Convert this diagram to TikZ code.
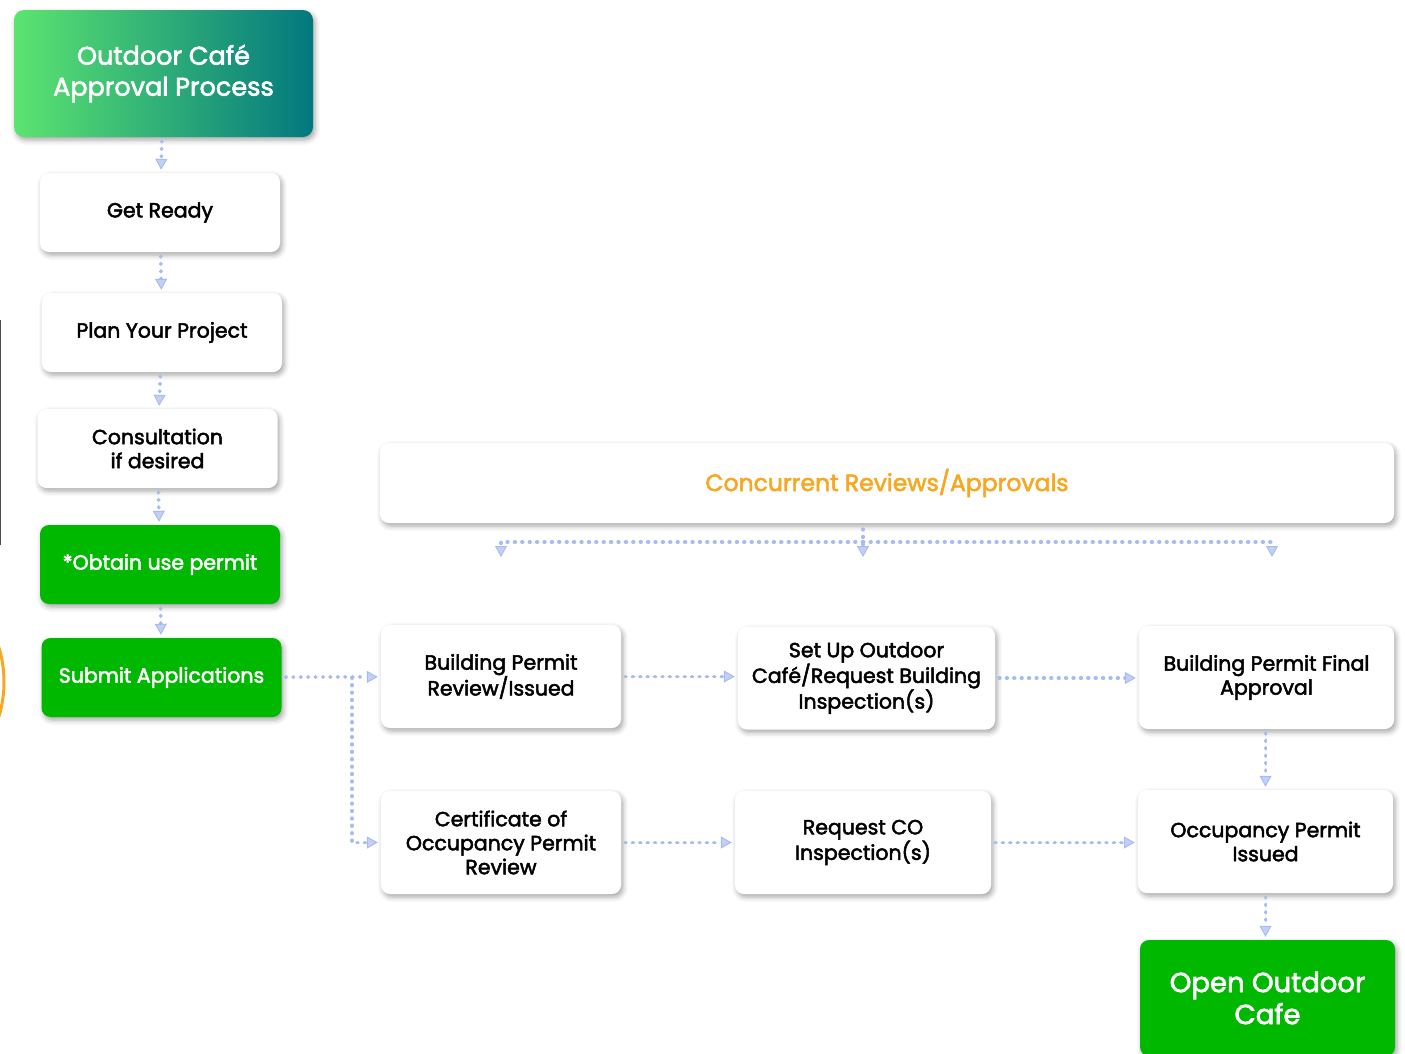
\documentclass[tikz,border=0pt]{standalone}
\usepackage{fontspec}
\setmainfont{Poppins}
\newfontfamily\semib{Poppins}[FakeBold=2.4]
\usetikzlibrary{arrows.meta,shadows.blur}
\usepackage{xcolor}

\definecolor{flowgreen}{HTML}{00B800}
\definecolor{linkblue}{HTML}{A9BCF2}
\definecolor{concorange}{HTML}{F7A823}
\definecolor{titlelight}{HTML}{5CE470}
\definecolor{titledark}{HTML}{02787F}

\tikzset{
  boxshadow/.style={blur shadow={shadow xshift=2pt, shadow yshift=-3pt, shadow blur radius=5pt, shadow opacity=35}},
  stepbox/.style={fill=white, rounded corners=9pt, align=center, inner sep=0pt, boxshadow,
    minimum width=240pt, minimum height=79pt, font=\semib\fontsize{20.5}{24}\selectfont},
  widebox/.style={stepbox, minimum height=103pt},
  greenbox/.style={stepbox, fill=flowgreen, text=white},
  flow/.style={draw=linkblue, line width=3.8pt, line cap=round, dash pattern=on 0.6pt off 6.8pt,
    shorten >=3pt, shorten <=4pt, -{Triangle[fill=linkblue!70, line width=1pt, length=11pt, width=12pt]}}
}

\begin{document}
\begin{tikzpicture}[x=1pt, y=-1pt]
    \useasboundingbox (0,0) rectangle (1405,1053);

    % cut-off shapes on the left edge
    \begin{scope}
        \clip (0,0) rectangle (1405,1053);
        \draw[gray!60!black, line width=2.5pt] (0,320) -- (0,545);
        \draw[concorange, line width=3pt] (-60,682) ellipse (64pt and 88pt);
    \end{scope}

    % left column
    \node[rounded corners=10pt, left color=titlelight, right color=titledark, boxshadow,
          minimum width=299pt, minimum height=127pt, text=white, align=center,
          font=\semib\fontsize{25.5}{31}\selectfont] (title) at (163.5,73.5) {Outdoor Café\\Approval Process};
    \node[stepbox] (ready) at (160,212.5) {Get Ready};
    \node[stepbox] (plan) at (162,332.5) {Plan Your Project};
    \node[stepbox] (consult) at (157.5,448.5) {Consultation\\if desired};
    \node[greenbox] (usepermit) at (160,564.5) {*Obtain use permit};
    \node[greenbox] (submit) at (161.5,677.5) {Submit Applications};

    % concurrent reviews
    \node[stepbox, minimum width=1014pt, minimum height=80pt, text=concorange,
          font=\semib\fontsize{23.5}{26}\selectfont] (concur) at (887,483) {Concurrent Reviews/Approvals};

    % review rows
    \node[widebox] (bpreview) at (501,676.5) {Building Permit\\Review/Issued};
    \node[widebox, minimum width=257pt] (setup) at (866.5,678) {Set Up Outdoor\\Café/Request Building\\Inspection(s)};
    \node[widebox, minimum width=255pt] (bpfinal) at (1266.5,677.5) {Building Permit Final\\Approval};
    \node[widebox] (cert) at (501,842.5) {Certificate of\\Occupancy Permit\\Review};
    \node[widebox, minimum width=256pt] (reqco) at (863,842.5) {Request CO\\Inspection(s)};
    \node[widebox, minimum width=255pt] (occissued) at (1265.5,841.5) {Occupancy Permit\\Issued};
    \node[greenbox, minimum width=255pt, minimum height=116pt,
          font=\semib\fontsize{27.5}{32}\selectfont] (open) at (1267.5,998) {Open Outdoor\\Cafe};

    % connectors, left column
    \draw[flow] (title) -- (ready);
    \draw[flow] (ready) -- (plan);
    \draw[flow] (plan) -- (consult);
    \draw[flow] (consult) -- (usepermit);
    \draw[flow] (usepermit) -- (submit);

    % fork under concurrent box
    \coordinate (fork) at (863,542);
    \coordinate (forkmid) at (863,557);
    \coordinate (forkleft) at (501,557);
    \coordinate (forkright) at (1272,557);
    \draw[flow, shorten <=6pt, shorten >=0pt] (concur.south -| fork) -- (forkmid);
    \draw[flow, shorten <=0pt, shorten >=0pt] (fork) -| (forkleft);
    \draw[flow, shorten <=0pt, shorten >=0pt] (fork) -| (forkright);

    % applications split
    \coordinate (split) at (352,677.5);
    \draw[flow] (submit) -- (bpreview);
    \draw[flow, shorten <=0pt] (split) |- (cert);

    % rows
    \draw[flow] (bpreview) -- (bpreview -| setup.west);
    \draw[flow] (setup) -- (setup -| bpfinal.west);
    \draw[flow] (cert) -- (reqco);
    \draw[flow] (reqco) -- (reqco -| occissued.west);
    \draw[flow] (bpfinal.south -| occissued) -- (occissued);
    \draw[flow] (occissued) -- (occissued |- open.north);
\end{tikzpicture}
\end{document}
